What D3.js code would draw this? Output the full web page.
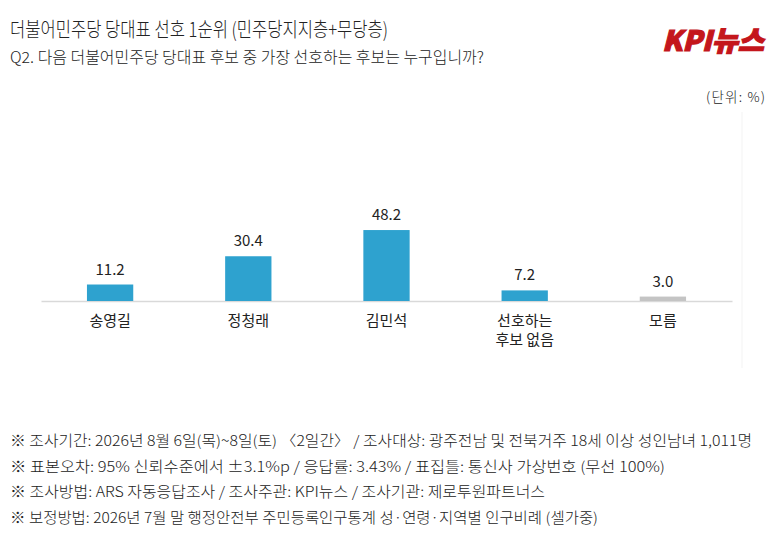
<!DOCTYPE html>
<html>
<head>
<meta charset="utf-8">
<script src="https://cdn.jsdelivr.net/npm/d3@7"></script>
<style>
  body { margin: 0; background: #fff; }
  text { font-family: "Noto Sans CJK KR", "Noto Sans", sans-serif; fill: #222; }
</style>
</head>
<body>
<div id="chart"></div>
<script>
// Data
const categories = ["송영길", "정청래", "김민석", "선호하는\n후보 없음", "모름"];
const values = [11.2, 30.4, 48.2, 7.2, 3.0];
const barColors = ["#2ea2cf", "#2ea2cf", "#2ea2cf", "#2ea2cf", "#c4c4c4"];
const footnotes = [
  "※ 조사기간: 2026년 8월 6일(목)~8일(토) 〈2일간〉 / 조사대상: 광주전남 및 전북거주 18세 이상 성인남녀 1,011명",
  "※ 표본오차: 95% 신뢰수준에서 ±3.1%p / 응답률: 3.43% / 표집틀: 통신사 가상번호 (무선 100%)",
  "※ 조사방법: ARS 자동응답조사 / 조사주관: KPI뉴스 / 조사기관: 제로투원파트너스",
  "※ 보정방법: 2026년 7월 말 행정안전부 주민등록인구통계 성·연령·지역별 인구비례 (셀가중)"
];
const footnoteWidths = [742, 655, 535, 588];

const W = 783, H = 538;
const baseline = 301;

const svg = d3.select("#chart").append("svg")
    .attr("width", W)
    .attr("height", H);

// Titles
svg.append("text")
    .attr("x", 10).attr("y", 37)
    .attr("font-size", 20)
    .attr("font-weight", 300)
    .attr("textLength", 378).attr("lengthAdjust", "spacingAndGlyphs")
    .text("더불어민주당 당대표 선호 1순위 (민주당지지층+무당층)");

svg.append("text")
    .attr("x", 10).attr("y", 63)
    .attr("font-size", 15.5)
    .attr("font-weight", 300)
    .attr("textLength", 474).attr("lengthAdjust", "spacingAndGlyphs")
    .text("Q2. 다음 더불어민주당 당대표 후보 중 가장 선호하는 후보는 누구입니까?");

// Logo
svg.append("text")
    .attr("transform", "translate(662,51) skewX(-14)")
    .attr("font-size", 28)
    .attr("font-weight", 900)
    .attr("textLength", 102).attr("lengthAdjust", "spacingAndGlyphs")
    .style("fill", "#c4161c")
    .style("stroke", "#c4161c")
    .style("stroke-width", 1.2)
    .text("KPI뉴스");

svg.append("text")
    .attr("x", 765).attr("y", 102)
    .attr("text-anchor", "end")
    .attr("font-size", 13.5)
    .attr("font-weight", 300)
    .attr("textLength", 59).attr("lengthAdjust", "spacing")
    .text("(단위: %)");

// faint frame line
svg.append("line")
    .attr("x1", 742).attr("x2", 742)
    .attr("y1", 112).attr("y2", 368)
    .attr("stroke", "#f3f3f3");

// Scales
const x = d3.scaleBand()
    .domain(categories)
    .range([41, 732])
    .paddingInner(0.665)
    .paddingOuter(0.3325);

const y = d3.scaleLinear()
    .domain([0, 50])
    .range([baseline, baseline - 73.6]);

// Axis line
svg.append("g")
    .attr("transform", `translate(0,${baseline})`)
    .call(d3.axisBottom(x).tickSize(0).tickFormat(""))
    .call(g => g.select(".domain").attr("stroke", "#d9d9d9").attr("stroke-width", 1.5));

// Bars
svg.selectAll(".bar")
    .data(values)
    .enter()
    .append("rect")
    .attr("class", "bar")
    .attr("x", (d, i) => x(categories[i]))
    .attr("width", x.bandwidth())
    .attr("y", d => y(d))
    .attr("height", d => baseline - y(d))
    .attr("fill", (d, i) => barColors[i]);

// Value labels
svg.selectAll(".val")
    .data(values)
    .enter()
    .append("text")
    .attr("class", "val")
    .attr("x", (d, i) => x(categories[i]) + x.bandwidth() / 2)
    .attr("y", d => y(d) - 10)
    .attr("text-anchor", "middle")
    .attr("font-size", 15)
    .text(d => d.toFixed(1));

// Category labels
svg.selectAll(".cat")
    .data(categories)
    .enter()
    .append("text")
    .attr("class", "cat")
    .attr("x", d => x(d) + x.bandwidth() / 2)
    .attr("y", 326)
    .attr("text-anchor", "middle")
    .attr("font-size", 15)
    .each(function(d) {
        d.split("\n").forEach((line, i) => {
            d3.select(this).append("tspan")
                .attr("x", x(d) + x.bandwidth() / 2)
                .attr("dy", i === 0 ? 0 : 19)
                .text(line);
        });
    });

// Footnotes
svg.selectAll(".note")
    .data(footnotes)
    .enter()
    .append("text")
    .attr("class", "note")
    .attr("x", 10)
    .attr("y", (d, i) => 446 + i * 25.5)
    .attr("font-size", 14.5)
    .attr("font-weight", 300)
    .attr("textLength", (d, i) => footnoteWidths[i])
    .attr("lengthAdjust", "spacingAndGlyphs")
    .text(d => d);
</script>
</body>
</html>
